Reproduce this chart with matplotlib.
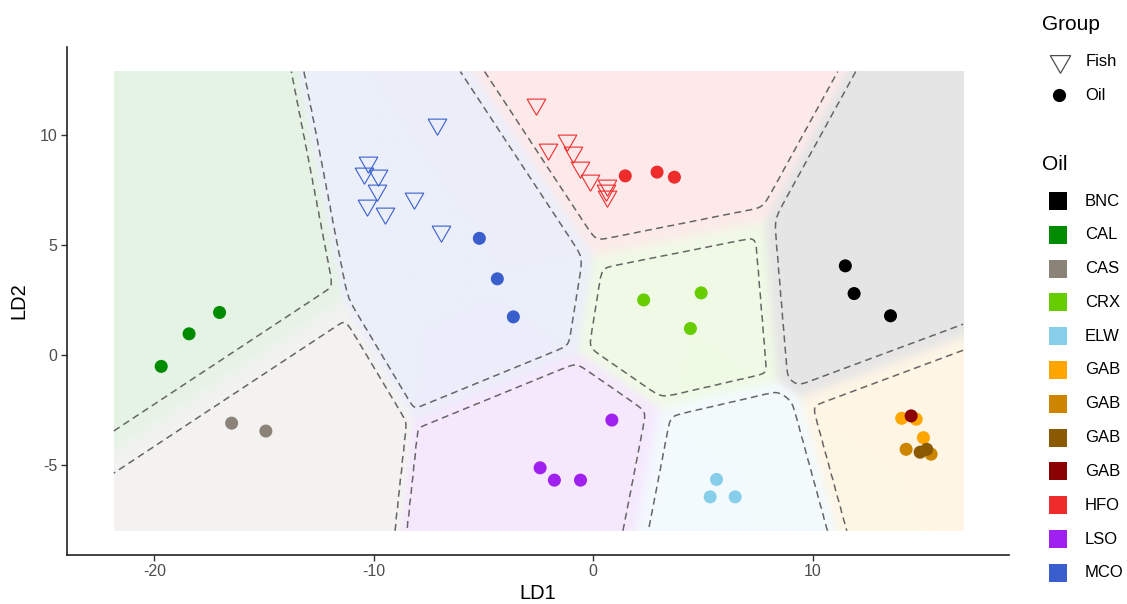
import numpy as np
import matplotlib
matplotlib.use("Agg")
import matplotlib.pyplot as plt
from matplotlib.colors import to_rgb

plt.rcParams['font.family'] = ['Liberation Sans', 'DejaVu Sans']
plt.rcParams['axes.unicode_minus'] = False

# ---------------- data ----------------
# legend entries for the Oil colour scale
legend_labels = ["BNC", "CAL", "CAS", "CRX", "ELW", "GAB", "GAB", "GAB", "GAB", "HFO", "LSO", "MCO"]
legend_colors = ["#000000", "#008B00", "#8B8378", "#66CD00", "#87CEEB", "#FFA500",
                 "#CD8500", "#8B5A00", "#8B0000", "#EE2C2C", "#A020F0", "#3A5FCD"]

# oil samples: LD scores, index into the legend scale
oil_ld1 = [11.49, 11.89, 13.55,
           -17.03, -18.42, -19.69,
           -16.48, -14.92,
           2.30, 4.92, 4.43,
           5.62, 5.33, 6.47,
           14.06, 14.72, 15.05, 14.26, 15.40, 14.90, 15.20, 14.49,
           1.46, 2.91, 3.70,
           -2.42, -1.77, -0.58, 0.85,
           -5.19, -4.37, -3.64]
oil_ld2 = [4.05, 2.79, 1.78,
           1.93, 0.96, -0.52,
           -3.10, -3.46,
           2.50, 2.82, 1.20,
           -5.66, -6.45, -6.45,
           -2.88, -2.92, -3.76, -4.29, -4.51, -4.42, -4.29, -2.77,
           8.14, 8.31, 8.08,
           -5.13, -5.69, -5.69, -2.96,
           5.30, 3.46, 1.73]
oil_key = [0, 0, 0,
           1, 1, 1,
           2, 2,
           3, 3, 3,
           4, 4, 4,
           5, 5, 5, 6, 6, 7, 7, 8,
           9, 9, 9,
           10, 10, 10, 10,
           11, 11, 11]

# fish samples: LD scores, index into the legend scale
fish_ld1 = [-7.11, -10.26, -10.46, -9.80, -9.85, -10.33, -9.50, -8.17, -6.94,
            -2.62, -2.04, -1.20, -0.93, -0.59, -0.14, 0.62, 0.59, 0.62]
fish_ld2 = [10.51, 8.78, 8.27, 8.20, 7.51, 6.83, 6.45, 7.14, 5.65,
            11.39, 9.34, 9.79, 9.22, 8.55, 7.97, 7.74, 7.51, 7.21]
fish_key = [11] * 9 + [9] * 9

# extent of the classification grid
grid_ld1 = (-21.85, 16.86)
grid_ld2 = (-7.99, 12.88)
contour_level = 0.98

# ---------------- model (nearest class mean in LD space) ----------------
classes = ["BNC", "CAL", "CAS", "CRX", "ELW", "GAB", "HFO", "LSO", "MCO"]
class_color = {lab: legend_colors[legend_labels.index(lab)] for lab in classes}
o1 = np.array(oil_ld1); o2 = np.array(oil_ld2)
o_cls = np.array([legend_labels[k] for k in oil_key])
means = np.array([[o1[o_cls == c].mean(), o2[o_cls == c].mean()] for c in classes])

gx = np.linspace(grid_ld1[0], grid_ld1[1], 420)
gy = np.linspace(grid_ld2[0], grid_ld2[1], 240)
GX, GY = np.meshgrid(gx, gy)
d2 = np.stack([(GX - m[0]) ** 2 + (GY - m[1]) ** 2 for m in means])
logp = -0.5 * d2
logp -= logp.max(axis=0)
post = np.exp(logp)
post /= post.sum(axis=0)

cols = np.array([to_rgb(class_color[c]) for c in classes])
mix = np.tensordot(post, cols, axes=([0], [0]))  # (ny, nx, 3)
rgb = 1 - 0.1 * (1 - mix)

# ---------------- plot ----------------
W, H = 1127, 604
fig = plt.figure(figsize=(W / 100, H / 100), dpi=100)
ax = fig.add_axes([67.3 / W, (H - 554.5) / H, (1009 - 67.3) / W, (554.5 - 46.7) / H])

ax.imshow(rgb, extent=(grid_ld1[0], grid_ld1[1], grid_ld2[0], grid_ld2[1]),
          origin='lower', interpolation='bilinear', aspect='auto', zorder=0)

lw = 1.1
for i, c in enumerate(classes):
    ax.contour(GX, GY, post[i], levels=[contour_level], colors='#666666',
               linewidths=lw, linestyles=[(0, (5.0 / lw, 3.2 / lw))], zorder=1)

# fish: open down-pointing triangles
for x, y, k in zip(fish_ld1, fish_ld2, fish_key):
    ax.plot(x, y, marker=(3, 0, 180), ms=15.5, mfc='none', mec=legend_colors[k],
            mew=0.8, ls='none', zorder=3)
# oil: filled circles
ax.scatter(oil_ld1, oil_ld2, s=88, c=[legend_colors[k] for k in oil_key],
           edgecolors='none', zorder=4)

ax.set_xlim(-23.97, 18.95)
ax.set_ylim(-9.07, 14.01)
ax.set_xticks([-20, -10, 0, 10])
ax.set_yticks([-5, 0, 5, 10])
for s in ['top', 'right']:
    ax.spines[s].set_visible(False)
for s in ['left', 'bottom']:
    ax.spines[s].set_color('#222222')
    ax.spines[s].set_linewidth(1.2)
ax.tick_params(length=4, width=1.0, color='#333333', labelcolor='#4D4D4D',
               labelsize=11.5, pad=3)
ax.set_xlabel('LD1', fontsize=14.5, color='black', labelpad=3.5)
ax.set_ylabel('LD2', fontsize=14.5, color='black', labelpad=8)
ax.set_facecolor('white')

# ---------------- legends (pixel coordinates) ----------------
lax = fig.add_axes([0, 0, 1, 1])
lax.set_xlim(0, W)
lax.set_ylim(H, 0)
lax.axis('off')
lax.patch.set_alpha(0)

lax.text(1041.7, 25, 'Group', fontsize=15, va='center', ha='left')
lax.plot(1060, 61, marker=(3, 0, 180), ms=17, mfc='none', mec='#4D4D4D', mew=0.9, ls='none')
lax.text(1085.7, 62, 'Fish', fontsize=12, va='center', ha='left')
lax.plot(1058.5, 95, marker='o', ms=9.5, mfc='black', mec='none', ls='none')
lax.text(1085.7, 95, 'Oil', fontsize=12, va='center', ha='left')

lax.text(1041.7, 164, 'Oil', fontsize=15, va='center', ha='left')
for i, (lab, col) in enumerate(zip(legend_labels, legend_colors)):
    yc = 201 + 33.8 * i
    lax.add_patch(plt.Rectangle((1049, yc - 9), 18, 18, facecolor=col, edgecolor='none'))
    lax.text(1085, yc, lab, fontsize=12, va='center', ha='left')

fig.savefig('out.png', dpi=100, facecolor='white')
